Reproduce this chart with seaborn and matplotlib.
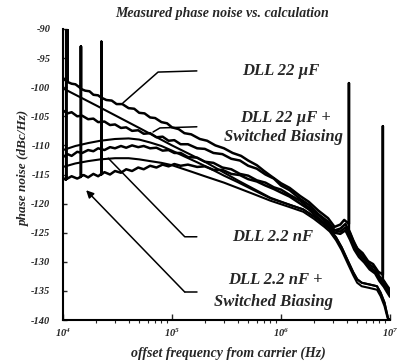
import numpy as np
import pandas as pd
import matplotlib
matplotlib.use("Agg")
import matplotlib.pyplot as plt
from matplotlib.ticker import FixedLocator, FixedFormatter, LogLocator, NullFormatter
import seaborn as sns

# measured curves (Hz, dBc/Hz); spurs are drawn as vertical lines
m1_freq = [1.0e4, 1.05e4, 1.1e4, 1.1e4, 1.1e4, 1.2e4, 1.3e4, 1.46e4, 1.46e4, 1.46e4, 1.6e4, 1.75e4,
           1.9e4, 2.1e4, 2.25e4, 2.25e4, 2.25e4, 2.5e4, 2.8e4, 3.1e4, 3.5e4, 4.0e4, 4.5e4, 5.0e4, 5.6e4,
           6.3e4, 7.0e4, 8.0e4, 9.0e4, 1.0e5, 1.15e5, 1.3e5, 1.5e5, 1.8e5, 2.1e5, 2.5e5, 3.0e5, 3.6e5,
           4.3e5, 5.0e5, 6.0e5, 7.0e5, 8.0e5, 1.0e6, 1.2e6, 1.5e6, 1.8e6, 2.2e6, 2.7e6, 3.1e6, 3.5e6,
           3.8e6, 4.2e6, 4.2e6, 4.2e6, 4.6e6, 5.0e6, 5.6e6, 6.3e6, 7.0e6, 7.8e6, 8.6e6, 8.6e6, 8.6e6,
           9.4e6, 1.0e7]
m1_db = [-98.4, -98.8, -99.0, -88.0, -99.1, -99.4, -99.5, -100.2, -93.0, -100.3,
         -100.6, -100.7, -101.3, -101.4, -101.8, -92.2, -101.8, -102.2, -102.3, -102.9,
         -102.9, -103.6, -103.7, -104.4, -104.5, -105.2, -105.3, -106.0, -106.2, -106.9,
         -107.2, -107.9, -108.1, -108.9, -109.2, -110.0, -110.5, -111.3, -111.8, -112.6,
         -113.4, -114.4, -115.2, -116.5, -117.3, -118.7, -119.7, -121.2, -122.5, -124.0,
         -123.6, -122.8, -123.5, -99.3, -124.5, -126.3, -127.7, -128.5, -129.9, -130.4,
         -131.7, -132.2, -106.7, -133.0, -134.1, -134.8]

m_freq = [1.0e4, 1.1e4, 1.2e4, 1.35e4, 1.5e4, 1.7e4, 1.9e4, 2.1e4, 2.4e4, 2.7e4, 3.0e4, 3.4e4, 3.8e4,
          4.3e4, 4.9e4, 5.5e4, 6.3e4, 7.2e4, 8.2e4, 9.3e4, 1.05e5, 1.2e5, 1.4e5, 1.7e5, 2.0e5, 2.4e5,
          2.9e5, 3.5e5, 4.2e5, 5.0e5, 6.0e5, 7.2e5, 8.6e5, 1.0e6, 1.2e6, 1.5e6, 1.8e6, 2.2e6, 2.7e6,
          3.1e6, 3.5e6, 3.9e6, 4.3e6, 4.7e6, 5.2e6, 5.8e6, 6.5e6, 7.3e6, 8.0e6, 8.8e6, 9.4e6, 1.0e7]
m2_db = [-104.0, -104.5, -104.3, -105.0, -104.9, -105.5, -105.4, -106.0, -105.9, -106.5,
         -106.4, -107.0, -106.9, -107.5, -107.4, -108.0, -107.9, -108.6, -108.5, -109.2,
         -109.1, -109.8, -109.8, -110.5, -110.6, -111.3, -111.5, -112.3, -112.6, -113.5,
         -114.0, -115.0, -115.7, -116.9, -117.7, -119.2, -120.2, -121.8, -123.1, -124.6,
         -124.3, -123.5, -125.1, -126.9, -128.2, -129.2, -130.5, -131.1, -132.5, -133.4,
         -134.5, -135.2]
m3_db = [-112.0, -111.5, -111.8, -111.1, -111.3, -110.8, -111.0, -110.5, -110.8, -110.3,
         -110.5, -110.1, -110.4, -110.0, -110.3, -110.1, -110.5, -110.4, -110.9, -110.8,
         -111.3, -111.3, -112.0, -112.1, -112.8, -113.0, -113.8, -114.1, -114.9, -115.2,
         -116.0, -116.4, -117.2, -117.6, -118.5, -119.5, -120.7, -122.0, -123.5, -124.6,
         -124.8, -124.1, -125.7, -127.5, -128.7, -129.7, -130.9, -131.6, -132.9, -133.9,
         -134.9, -135.6]
m4_freq = [1.0e4, 1.06e4, 1.07e4, 1.07e4, 1.07e4, 1.2e4, 1.35e4, 1.46e4, 1.46e4, 1.46e4,
           1.55e4, 1.7e4, 1.9e4, 2.1e4, 2.25e4, 2.25e4, 2.25e4, 2.4e4, 2.7e4] + m_freq[10:]
m4_db = [-115.6, -115.9, -115.8, -89.0, -115.8, -115.3, -115.7, -115.4, -93.0, -115.3,
         -115.1, -115.5, -114.9, -115.3, -114.9, -92.2, -115.0, -114.6, -115.0,
         -114.4, -114.7, -114.1, -114.4, -113.8, -114.1, -113.5, -113.8, -113.3, -113.6,
         -113.2, -113.5, -113.3, -113.7, -113.6, -114.2, -114.2, -114.9, -115.1, -115.8,
         -116.2, -116.9, -117.5, -118.1, -118.8, -120.0, -121.0, -122.5, -123.9, -125.0,
         -125.2, -124.6, -126.2, -127.9, -129.2, -130.1, -131.3, -132.0, -133.3, -134.3,
         -135.2, -136.0]

# calculated curves
c1_freq = [1e4, 2e4, 5e4, 1e5, 2e5, 4e5, 8e5, 1.2e6, 1.6e6, 2.0e6, 2.5e6, 2.8e6, 3.2e6, 3.6e6, 4.1e6,
           4.6e6, 5.0e6, 5.5e6, 6.5e6, 7.6e6, 8.2e6, 8.9e6, 9.3e6, 9.6e6, 1.0e7]
c1_db = [-100.2, -103.1, -107.0, -110.0, -112.8, -116.0, -119.0, -120.2, -121.0, -122.2, -123.6, -124.4,
         -125.8, -127.5, -129.8, -131.8, -133.0, -133.6, -133.9, -134.2, -135.3, -137.0, -138.6, -139.7,
         -140.0]
c3_freq = [1e4, 1.3e4, 1.7e4, 2.2e4, 3e4, 4e4, 5e4, 6.3e4, 8e4, 1e5, 1.3e5, 1.7e5, 2.2e5, 3e5, 4e5,
           5.5e5, 8e5]
c3_db = [-110.8, -110.1, -109.6, -109.2, -108.9, -108.8, -109.0, -109.5, -110.1, -110.9, -111.9, -112.9,
         -113.9, -115.2, -116.3, -117.6, -119.1]
c4_freq = [1e4, 1.3e4, 1.7e4, 2.2e4, 3e4, 4e4, 5e4, 6.3e4, 8e4, 1e5, 1.5e5, 2e5, 3e5, 4e5, 5.5e5, 8e5,
           1.2e6, 1.6e6, 2.0e6, 2.5e6, 2.8e6, 3.2e6, 3.6e6, 4.1e6, 4.6e6, 5.0e6, 5.5e6, 6.5e6, 7.6e6,
           8.2e6, 8.9e6, 9.3e6, 9.6e6, 1.0e7]
c4_db = [-113.7, -113.1, -112.7, -112.4, -112.2, -112.2, -112.4, -112.7, -113.0, -113.4, -114.5, -115.3,
         -116.4, -117.3, -118.3, -119.5, -120.6, -121.4, -122.6, -124.0, -124.8, -126.3, -128.0, -130.3,
         -132.3, -133.6, -134.2, -134.5, -134.8, -135.9, -137.6, -139.0, -139.9, -140.2]

measured = [
    pd.DataFrame({"f": m1_freq, "db": m1_db}),
    pd.DataFrame({"f": m_freq, "db": m2_db}),
    pd.DataFrame({"f": m_freq, "db": m3_db}),
    pd.DataFrame({"f": m4_freq, "db": m4_db}),
]
calc = [
    pd.DataFrame({"f": c1_freq, "db": c1_db}),
    pd.DataFrame({"f": c3_freq + c1_freq[7:], "db": c3_db + c1_db[7:]}),
    pd.DataFrame({"f": c4_freq, "db": c4_db}),
]

sns.set_style("ticks")
plt.rcParams["font.family"] = ["Liberation Serif", "DejaVu Serif"]
plt.rcParams["font.weight"] = "bold"
plt.rcParams["font.style"] = "italic"
plt.rcParams["axes.unicode_minus"] = False
plt.rcParams["mathtext.fontset"] = "custom"
plt.rcParams["mathtext.rm"] = "Liberation Serif:italic:bold"
plt.rcParams["mathtext.it"] = "Liberation Serif:italic:bold"

W, H = 397, 363
fig = plt.figure(figsize=(W / 100, H / 100), dpi=100)
ax = fig.add_axes([63 / W, 1 - 320 / H, (390 - 63) / W, (320 - 29) / H])

for df in measured:
    sns.lineplot(data=df, x="f", y="db", ax=ax, color="black", lw=1.8,
                 estimator=None, sort=False, legend=False)
for df in calc:
    sns.lineplot(data=df, x="f", y="db", ax=ax, color="black", lw=1.5,
                 estimator=None, sort=False, legend=False)

ax.set_xscale("log")
ax.set_xlim(1e4, 1e7)
ax.set_ylim(-140, -90)
ax.set_xlabel("")
ax.set_ylabel("")

xticks = [1e4, 1e5, 1e6, 1e7]
xlabels = [r"$10^4$", r"$10^5$", r"$10^6$", r"$10^7$"]
ax.xaxis.set_major_locator(FixedLocator(xticks))
ax.xaxis.set_major_formatter(FixedFormatter(xlabels))
ax.xaxis.set_minor_locator(LogLocator(base=10, subs=np.arange(2, 10)))
ax.xaxis.set_minor_formatter(NullFormatter())
yticks = list(range(-140, -85, 5))
ax.set_yticks(yticks)
ax.set_yticklabels([str(v) for v in yticks])
ax.tick_params(axis="both", direction="in", width=1, labelsize=7.5)
ax.tick_params(axis="x", which="major", length=4, pad=5)
ax.tick_params(axis="x", which="minor", length=2.5, width=0.8)
ax.tick_params(axis="y", length=3, pad=9)
sns.despine(ax=ax)
for s in ["left", "bottom"]:
    ax.spines[s].set_linewidth(1.5)
    ax.spines[s].set_color("black")

# label pointers
ax.plot([3.55e4, 7.45e4, 1.69e5], [-102.7, -97.4, -97.2], color="black", lw=1.1)
ax.plot([6.7e4, 7.75e4, 1.69e5], [-107.7, -107.0, -106.8], color="black", lw=1.1)
ax.plot([2.6e4, 1.31e5, 1.69e5], [-112.2, -125.7, -125.7], color="black", lw=1.1)
ax.plot([1.31e5, 1.69e5], [-135.2, -135.2], color="black", lw=1.1)
ax.annotate("", xy=(1.63e4, -117.7), xytext=(1.31e5, -135.2),
            arrowprops=dict(arrowstyle="-|>", color="black", lw=1.1, mutation_scale=11,
                            shrinkA=0, shrinkB=0))

lab = dict(ha="center", va="center", fontsize=12, fontweight="bold", style="italic")
fig.text(281 / W, 1 - 71 / H, "DLL 22 µF", **lab)
fig.text(286 / W, 1 - 118 / H, "DLL 22 µF +", **lab)
fig.text(284 / W, 1 - 137 / H, "Switched Biasing", **lab)
fig.text(273 / W, 1 - 237 / H, "DLL 2.2 nF", **lab)
fig.text(275 / W, 1 - 280 / H, "DLL 2.2 nF +", **lab)
fig.text(274 / W, 1 - 302 / H, "Switched Biasing", **lab)

fig.text(222 / W, 1 - 13 / H, "Measured phase noise vs. calculation", ha="center", va="center",
         fontsize=10, fontweight="bold", style="italic")
fig.text(228 / W, 1 - 353 / H, "offset frequency from carrier (Hz)", ha="center", va="center",
         fontsize=10, fontweight="bold", style="italic")
fig.text(24 / W, 1 - 168 / H, "phase noise (dBc/Hz)", ha="center", va="center", rotation=90,
         fontsize=9.5, fontweight="bold", style="italic")

fig.savefig("out.png", dpi=100)
